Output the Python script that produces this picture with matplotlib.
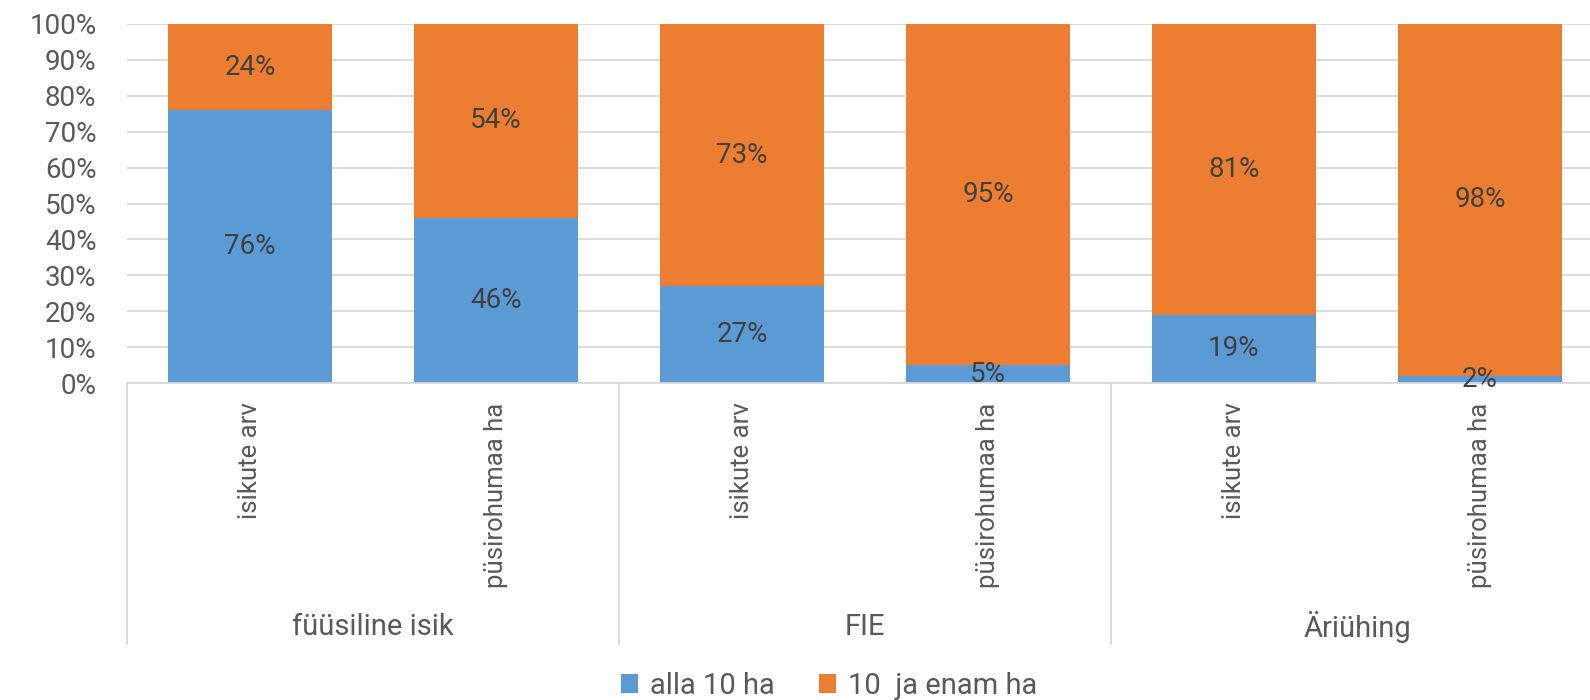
import matplotlib
matplotlib.use('Agg')
import matplotlib.pyplot as plt
import matplotlib.transforms as mtransforms
from matplotlib.lines import Line2D
import numpy as np

plt.rcParams['font.family'] = ['Roboto', 'DejaVu Sans']

# data
groups = ['füüsiline isik', 'FIE', 'Äriühing']
sub_labels = ['isikute arv', 'püsirohumaa ha'] * 3
series_names = ['alla 10 ha', '10  ja enam ha']
below_10 = [76, 46, 27, 5, 19, 2]
above_10 = [24, 54, 73, 95, 81, 98]

blue = '#5B9BD5'
orange = '#ED7D31'
text_col = '#595959'
label_col = '#404040'
fs = 20

fig = plt.figure(figsize=(15.9, 7.0), dpi=100)
ax = fig.add_axes([127 / 1590, 1 - 383 / 700, 1476 / 1590, 359 / 700])

x = np.arange(len(sub_labels))
w = 0.663
b1 = ax.bar(x, below_10, w, color=blue, zorder=2, label=series_names[0])
b2 = ax.bar(x, above_10, w, bottom=below_10, color=orange, zorder=2, label=series_names[1])

# data labels in middle of segments
for xi, lo, hi in zip(x, below_10, above_10):
    ax.text(xi, lo / 2, f'{lo}%', ha='center', va='center', fontsize=fs, color=label_col, zorder=3)
    ax.text(xi, lo + hi / 2, f'{hi}%', ha='center', va='center', fontsize=fs, color=label_col, zorder=3)

ax.set_xlim(-0.5, len(x) - 0.5)
ax.set_ylim(0, 100)
ax.set_yticks(np.arange(0, 101, 10))
ax.set_yticklabels([f'{v}%' for v in range(0, 101, 10)])
ax.yaxis.grid(True, color='#D9D9D9', lw=1.3, zorder=0)
ax.set_axisbelow(True)
for s in ['top', 'right', 'left']:
    ax.spines[s].set_visible(False)
ax.spines['bottom'].set_color('#D9D9D9')
ax.spines['bottom'].set_linewidth(1.3)
ax.tick_params(axis='y', length=0, pad=22, labelsize=fs, labelcolor=text_col)

ax.set_xticks(x)
ax.set_xticklabels(sub_labels, rotation=90, fontsize=18.5, color=text_col)
ax.tick_params(axis='x', length=0, pad=14)

# group separators and group labels
trans = mtransforms.blended_transform_factory(ax.transData, fig.transFigure)
y_top = 1 - 383 / 700
y_bot = 1 - 644 / 700
for sep in [-0.5, 1.5, 3.5]:
    fig.add_artist(Line2D([sep, sep], [y_top, y_bot], transform=trans, color='#D9D9D9', lw=1.3))
for gi, g in enumerate(groups):
    fig.text(gi * 2 + 0.5, 1 - 627 / 700, g, transform=trans, ha='center', va='center',
             fontsize=21, color=text_col)

fig.legend(handles=[b1, b2], labels=series_names, loc='center', bbox_to_anchor=(829 / 1590, 1 - 686 / 700),
           ncol=2, frameon=False, fontsize=21, labelcolor=text_col, handlelength=0.6, handleheight=0.6,
           handletextpad=0.4, columnspacing=1.5)

fig.savefig('out.png', dpi=100, facecolor='white')
plt.close('all')
